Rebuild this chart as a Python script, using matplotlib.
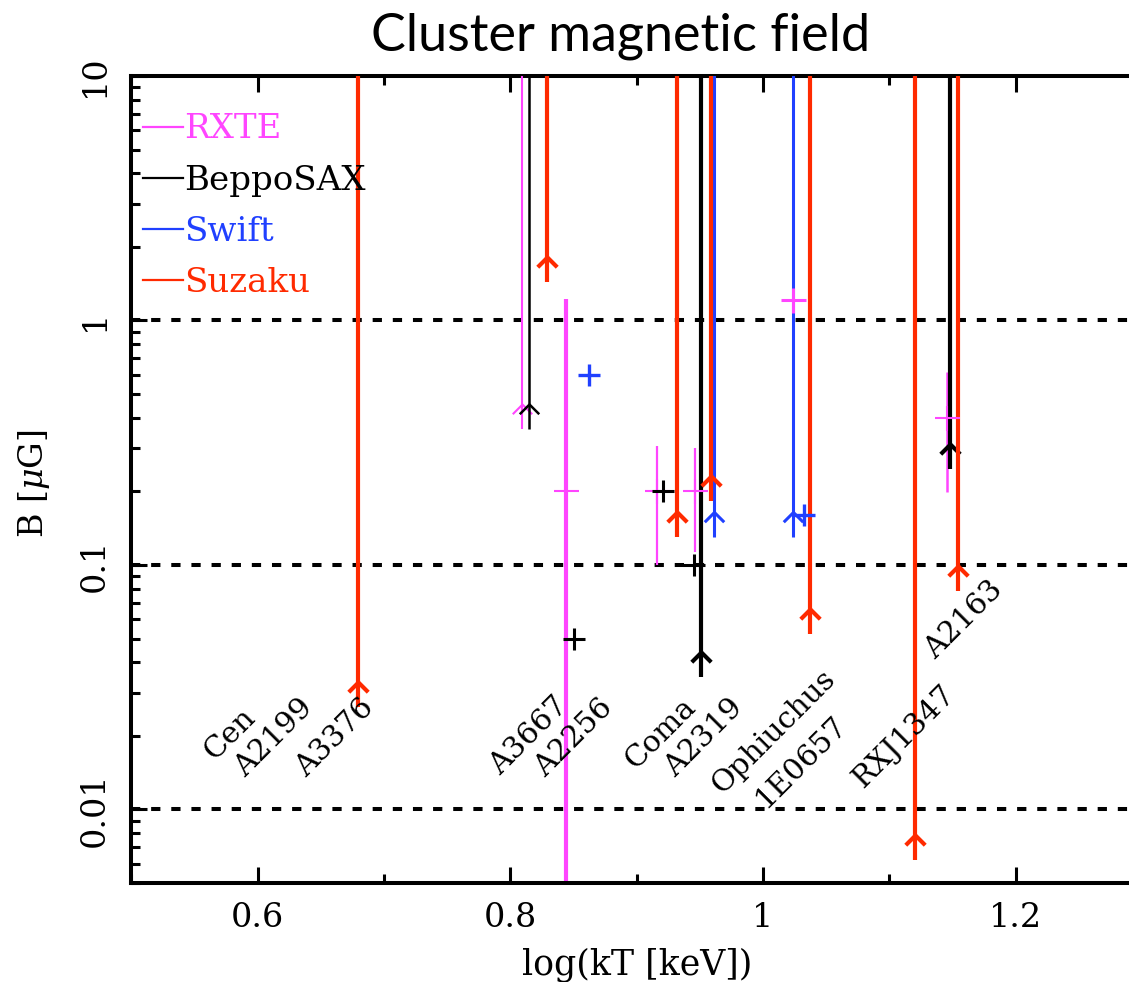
import matplotlib
matplotlib.use("Agg")
import matplotlib.pyplot as plt
import numpy as np
from matplotlib.path import Path
from matplotlib.lines import Line2D
from matplotlib.ticker import LogLocator, NullFormatter

plt.rcParams["font.family"] = ["DejaVu Serif"]
plt.rcParams["mathtext.fontset"] = "dejavuserif"

# ---------------- data: log(kT [keV]) and B [uG] ----------------
# RXTE detections with vertical error bars
rxte_kt = [0.844, 0.916, 0.946, 1.024, 1.146]
rxte_b = [0.20, 0.20, 0.20, 1.21, 0.40]
rxte_b_lo = [0.001, 0.10, 0.113, 1.21, 0.199]
rxte_b_hi = [1.22, 0.307, 0.30, 1.21, 0.615]
# RXTE lower limits
rxte_lim_kt = [0.809]
rxte_lim_b = [0.454]

# BeppoSAX detections and lower limits
sax_kt = [0.850, 0.921, 0.9457]
sax_b = [0.050, 0.20, 0.10]
sax_lim_kt = [0.815, 0.951, 1.148]
sax_lim_b = [0.454, 0.0441, 0.312]

# Swift detections and lower limits
swift_kt = [0.862, 1.0325]
swift_b = [0.60, 0.16]
swift_lim_kt = [0.961, 1.0235]
swift_lim_b = [0.164, 0.164]

# Suzaku lower limits
suzaku_lim_kt = [0.679, 0.829, 0.932, 0.959, 1.037, 1.120, 1.154]
suzaku_lim_b = [0.0333, 1.82, 0.164, 0.232, 0.066, 0.00785, 0.0994]

# Cluster name labels
cluster_names = ["Cen", "A2199", "A3376", "A3667", "A2256", "Coma", "A2319",
                 "Ophiuchus", "1E0657", "RXJ1347", "A2163"]
cluster_label_kt = [0.5654, 0.590, 0.638, 0.7918, 0.8275, 0.8987, 0.9304,
                    0.9676, 1.0017, 1.0793, 1.1363]
cluster_label_b = [0.0158, 0.0134, 0.0134, 0.01365, 0.0134, 0.01455, 0.0134,
                   0.0115, 0.0100, 0.0121, 0.0409]

reference_levels = [1.0, 0.1, 0.01]

x_major = [0.6, 0.8, 1.0, 1.2]
x_major_labels = ["0.6", "0.8", "1", "1.2"]
x_minor = [0.5, 0.7, 0.9, 1.1, 1.3]
y_major = [0.01, 0.1, 1, 10]
y_major_labels = ["0.01", "0.1", "1", "10"]

instruments = ["RXTE", "BeppoSAX", "Swift", "Suzaku"]

# ---------------- styles ----------------
PINK = "#ff45ff"
BLACK = "#000000"
BLUE = "#2040ff"
RED = "#ff2a00"
inst_colors = [PINK, BLACK, BLUE, RED]

rxte_lw = [3.0, 1.6, 1.6, 2.0, 1.8]
rxte_mew = [1.5, 1.5, 1.5, 2.2, 1.5]
rxte_lim_lw = [1.5]
sax_lim_lw = [1.8, 3.0, 3.0]
swift_lim_lw = [2.2, 2.2]
suzaku_lim_lw = [3.0] * len(suzaku_lim_kt)

STEM = 0.79      # arrow stem below the limit value (multiplicative, log axis)
TOP = 50.0       # limits extend beyond the top of the axes

chevron = Path([(-1, -1), (0, 0), (1, -1)],
               [Path.MOVETO, Path.LINETO, Path.LINETO])

fig = plt.figure(figsize=(11.29, 9.82), dpi=100)
ax = fig.add_axes([131.4 / 1129, 99 / 982, 1010.6 / 1129, 807 / 982])
ax.set_yscale("log")
ax.set_xlim(0.5, 1.3)
ax.set_ylim(0.005, 10)

for lvl in reference_levels:
    ax.axhline(lvl, color="black", lw=2.9, ls=(0, (2.3, 2.7)), zorder=1)


def lower_limits(kt, b, color, widths):
    b = np.asarray(b, dtype=float)
    ax.vlines(kt, b * STEM, TOP, colors=color, linewidths=widths, zorder=3)
    for xi, bi, wi in zip(kt, b, widths):
        ax.plot([xi], [bi], ls="none", marker=chevron, ms=14, mfc="none",
                mec=color, mew=wi, zorder=3)


def crosses(kt, b, color, mew, ms=16.5):
    for xi, bi, wi in zip(kt, b, mew):
        ax.plot([xi], [bi], ls="none", marker="+", ms=ms, mec=color,
                mew=wi, zorder=4)


# RXTE
ax.vlines(rxte_kt, rxte_b_lo, rxte_b_hi, colors=PINK, linewidths=rxte_lw, zorder=2)
crosses(rxte_kt, rxte_b, PINK, rxte_mew, ms=18)
lower_limits(rxte_lim_kt, rxte_lim_b, PINK, rxte_lim_lw)

# BeppoSAX
lower_limits(sax_lim_kt, sax_lim_b, BLACK, sax_lim_lw)
crosses(sax_kt, sax_b, BLACK, [2.2] * len(sax_kt))

# Swift
lower_limits(swift_lim_kt, swift_lim_b, BLUE, swift_lim_lw)
crosses(swift_kt, swift_b, BLUE, [2.4] * len(swift_kt))

# Suzaku
lower_limits(suzaku_lim_kt, suzaku_lim_b, RED, suzaku_lim_lw)

# cluster names
for name, xi, bi in zip(cluster_names, cluster_label_kt, cluster_label_b):
    ax.text(xi, bi, name, rotation=45, rotation_mode="anchor",
            ha="left", va="baseline", fontsize=21.5, color="black", zorder=5)

# legend
handles = [Line2D([0], [0], color=c, lw=1.6) for c in inst_colors]
leg = ax.legend(handles, instruments, loc="upper left",
                bbox_to_anchor=(0.0115, 0.9536), frameon=False, fontsize=24.5,
                handlelength=1.17, handletextpad=0.05, labelspacing=0.56,
                borderpad=0, borderaxespad=0, labelcolor=inst_colors)

# axes styling
for side in ["left", "bottom", "top"]:
    ax.spines[side].set_linewidth(2.9)
ax.spines["right"].set_visible(False)

ax.set_xticks(x_major)
ax.set_xticklabels(x_major_labels)
ax.set_xticks(x_minor, minor=True)
ax.set_yticks(y_major)
ax.set_yticklabels(y_major_labels)
ax.yaxis.set_minor_locator(LogLocator(base=10, subs=np.arange(2, 10)))
ax.yaxis.set_minor_formatter(NullFormatter())

ax.tick_params(which="both", direction="in", top=True, right=False, width=2.2,
               labelsize=24)
ax.tick_params(which="major", length=11.5)
ax.tick_params(which="minor", length=6.5)
ax.tick_params(axis="x", which="major", pad=13.5)
ax.tick_params(axis="y", which="major", pad=15, labelrotation=90)
for lbl in ax.get_yticklabels():
    lbl.set_verticalalignment("center")

ax.set_xlabel("log(kT [keV])", fontsize=25)
ax.xaxis.set_label_coords(0.5, -(947 - 883) / 807)
ax.set_ylabel(r"B [$\mu$G]", fontsize=24)
ax.yaxis.set_label_coords(-(131.4 - 52) / 1010.6, (883 - 484) / 807)

fig.text(621 / 1129, 1 - 50 / 982, "Cluster magnetic field",
         family="Lato", fontsize=37.5, ha="center", va="baseline")

fig.savefig("out.png", dpi=100)
